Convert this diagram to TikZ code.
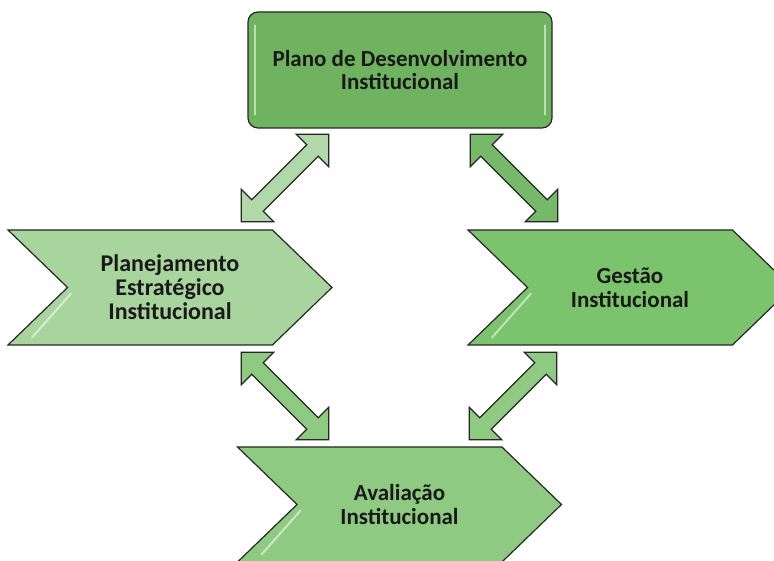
\documentclass[tikz,border=0pt]{standalone}
\usepackage{fontspec}
\setmainfont{Carlito}
\usetikzlibrary{positioning, calc, shapes.symbols, shapes.arrows}

\definecolor{pdigreen}{RGB}{111,178,96}
\definecolor{peigreen}{RGB}{168,212,158}
\definecolor{gigreen}{RGB}{124,195,109}
\definecolor{aigreen}{RGB}{143,202,130}

\begin{document}
\begin{tikzpicture}[
  x=1pt, y=1pt,
  box/.style = {draw=black!85, line width=1.2pt, rounded corners=10pt, fill=pdigreen,
    minimum width=304pt, minimum height=116pt, align=center, inner sep=0pt,
    font=\bfseries\fontsize{23}{23}\selectfont, text=black!90},
  chevron/.style = {draw=black!85, line width=1.2pt, signal, signal from=west, signal to=east,
    signal pointer angle=88, minimum width=324pt, minimum height=115pt, inner sep=0pt,
    align=center, font=\bfseries\fontsize{23}{24}\selectfont, text=black!90},
  dblarrow/.style = {draw=black!85, line width=1.2pt, double arrow, inner sep=7.5pt,
    double arrow head extend=15pt, minimum height=124pt, rotate=#1},
  gloss/.style = {white, line width=2pt, opacity=0.55, line cap=round}
]

  \useasboundingbox (0,0) rectangle (774,560);

  % Plano de Desenvolvimento Institucional
  \node[box] (pdi) at (400,490) {Plano de Desenvolvimento\\Institucional};

  % Planejamento Estrategico
  \node[chevron, fill=peigreen, font=\bfseries\fontsize{24}{24}\selectfont] (pei) at (170,272.5)
    {Planejamento\\Estratégico\\Institucional};

  % Gestao
  \node[chevron, fill=gigreen] (gi) at (630,272.5) {Gestão\\Institucional};

  % Avaliacao
  \node[chevron, fill=aigreen] (ai) at (399.5,55.5) {Avaliação\\Institucional};

  % gloss on the box
  \draw[gloss] ($(pdi.north west)+(8,-14)$) -- ($(pdi.south west)+(8,14)$);
  \draw[gloss] ($(pdi.north east)+(-8,-14)$) -- ($(pdi.south east)+(-8,14)$);

  % gloss on the chevrons
  \foreach \c in {pei, gi, ai} {
    \draw[gloss] ($(\c.center)+(-99,-6)$) -- ($(\c.center)+(-138,-50)$);
    \draw[gloss] ($(\c.center)+(156,-8)$) -- ($(\c.center)+(112,-52)$);
  }

  % double arrows between the steps
  \node[dblarrow=45, fill=peigreen!90!white] (pdipei) at (285,382) {};
  \node[dblarrow=-45, fill=gigreen!95!black] (pdigi) at (514,382) {};
  \node[dblarrow=-45, fill=aigreen] (peiai) at (285,164) {};
  \node[dblarrow=45, fill=aigreen] (giai) at (513,164) {};

\end{tikzpicture}
\end{document}
